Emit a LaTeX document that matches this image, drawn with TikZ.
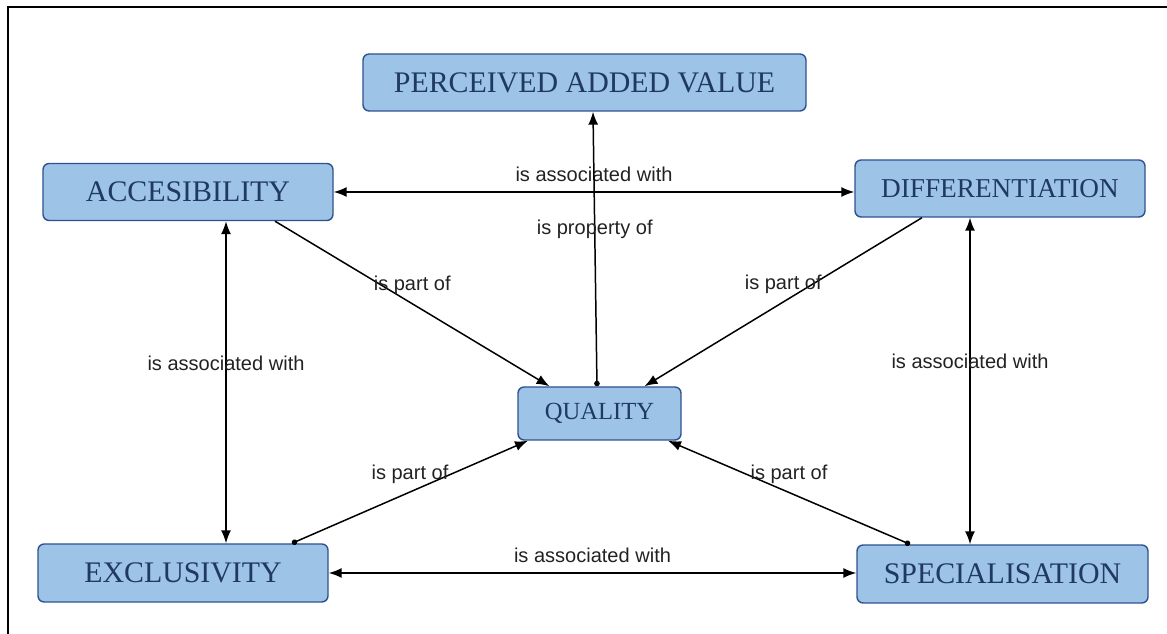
\documentclass[tikz,border=0pt]{standalone}
\usepackage{fontspec}
\usepackage{tikz}
\usetikzlibrary{arrows.meta,positioning}
\newfontfamily\boxfont{Liberation Serif}
\newfontfamily\relfont{Liberation Sans}
\definecolor{boxFill}{RGB}{157,195,230}
\definecolor{boxLine}{RGB}{47,82,143}
\definecolor{boxText}{RGB}{31,56,100}
\definecolor{relText}{RGB}{34,34,34}

\begin{document}
\begin{tikzpicture}[
      >={Latex[length=2.6mm,width=2mm]},
      concept/.style={
        draw=boxLine, line width=0.8pt, rounded corners=3.5pt, fill=boxFill,
        text=boxText, font=\boxfont\fontsize{17}{20}\selectfont,
        minimum width=5.8cm, minimum height=1.14cm, inner sep=2pt
      },
      relLabel/.style={font=\relfont\fontsize{11.4}{13}\selectfont, text=relText, inner sep=1pt},
      relUp/.style={relLabel, yshift=0.36cm},
      link/.style={line width=0.85pt, draw=black},
      dotStart/.style={{Circle[length=1.1mm]}-{Latex[length=2.6mm,width=2mm]}}
    ]

      % ---------- frame ----------
      \useasboundingbox (0,0) rectangle (23.34,12.68);
      \draw[line width=0.9pt] (0.16,0) -- (0.16,12.54) -- (23.34,12.54);

      % ---------- concepts ----------
      \node[concept, minimum width=8.86cm] (pav) at (11.69, 11.03) {PERCEIVED ADDED VALUE};
      \node[concept] (acc) at (3.76, 8.84) {ACCESIBILITY};
      \node[concept, font=\boxfont\fontsize{15.5}{18}\selectfont] (diff) at (20.0, 8.91) {DIFFERENTIATION};
      \node[concept, minimum width=3.26cm, minimum height=1.06cm,
            font=\boxfont\fontsize{14}{17}\selectfont] (qual) at (11.99, 4.41) {QUALITY};
      \node[concept, minimum height=1.16cm] (excl) at (3.66, 1.22) {EXCLUSIVITY};
      \node[concept, minimum width=5.82cm, minimum height=1.16cm] (spec) at (20.05, 1.20) {SPECIALISATION};

      % ---------- is associated with ----------
      \draw[link, <->] (acc.east) -- (acc.east -| diff.west)
        node[relUp, pos=0.5] {is associated with};
      \draw[link, <->] ([xshift=0.76cm]acc.south) -- ([xshift=0.76cm]acc.south |- excl.north)
        node[relLabel, pos=0.44] {is associated with};
      \draw[link, <->] ([xshift=-0.6cm]diff.south) -- ([xshift=-0.6cm]diff.south |- spec.north)
        node[relLabel, pos=0.44] {is associated with};
      \draw[link, <->] (excl.east) -- (excl.east -| spec.west)
        node[relUp, pos=0.5] {is associated with};

      % ---------- is property of ----------
      \draw[link, dotStart] ([xshift=-0.05cm]qual.north) -- ([xshift=0.17cm]pav.south)
        node[relLabel, pos=0.57] {is property of};

      % ---------- is part of ----------
      \draw[link, ->] ([xshift=1.74cm]acc.south) -- ([xshift=-1.0cm]qual.north)
        node[relUp, pos=0.5] {is part of};
      \draw[link, ->] ([xshift=-1.56cm]diff.south) -- ([xshift=0.9cm]qual.north)
        node[relUp, pos=0.5] {is part of};
      \draw[link, dotStart] ([xshift=2.18cm]excl.north) -- ([xshift=-1.43cm]qual.south)
        node[relUp, pos=0.5] {is part of};
      \draw[link, dotStart] ([xshift=-1.85cm]spec.north) -- ([xshift=1.37cm]qual.south)
        node[relUp, pos=0.5] {is part of};

    \end{tikzpicture}
\end{document}
